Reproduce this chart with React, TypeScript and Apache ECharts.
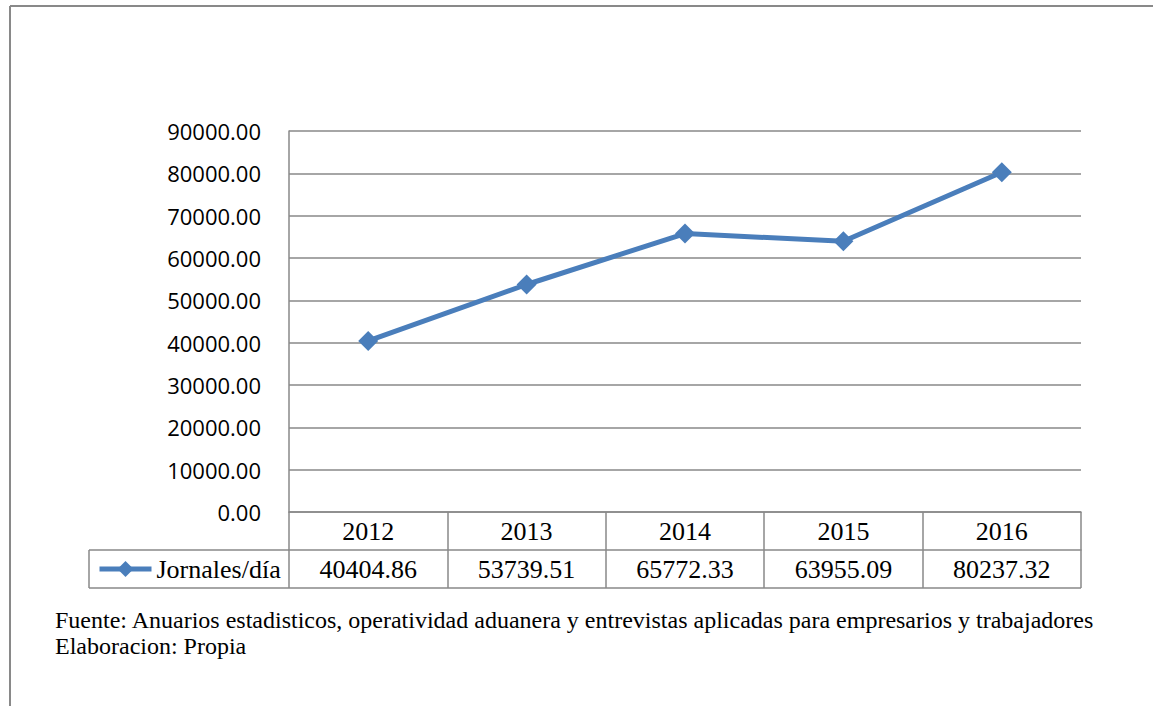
import React, { useEffect, useRef } from "react";
import * as echarts from "echarts";

const years = ["2012", "2013", "2014", "2015", "2016"];
const jornales = [40404.86, 53739.51, 65772.33, 63955.09, 80237.32];
const seriesName = "Jornales/día";
const footerLines = [
  "Fuente: Anuarios estadisticos, operatividad aduanera y entrevistas aplicadas para empresarios y trabajadores",
  "Elaboracion: Propia",
];

const GRAY = "#898989";
const BLUE = "#4A7EBB";
const SERIF = "Liberation Serif";
const SANS = "Open Sans";

export default function App() {
  const ref = useRef<HTMLDivElement>(null);
  useEffect(() => {
    document.body.style.margin = "0";
    if (!ref.current) return;
    const chart = echarts.init(ref.current, null, { renderer: "svg" });
    const gl = 289, gr = 1081, gt = 131, gb = 512;
    const row = 38;
    chart.setOption({
      animation: false,
      backgroundColor: "#ffffff",
      grid: { left: gl, right: 1153 - gr, top: gt, bottom: 706 - gb, containLabel: false },
      legend: {
        show: true,
        left: 97,
        top: gb + row + 6,
        padding: 0,
        itemWidth: 52,
        itemHeight: 20,
        itemStyle: { color: BLUE },
        lineStyle: { color: BLUE, width: 5 },
        textStyle: { fontFamily: SERIF, fontSize: 26, color: "#000" },
        data: [seriesName],
      },
      xAxis: [
        {
          type: "category",
          data: years,
          position: "bottom",
          boundaryGap: true,
          axisLine: { show: true, lineStyle: { color: GRAY, width: 1.5 } },
          axisTick: { show: true, interval: 0, length: row, lineStyle: { color: GRAY, width: 1.5 } },
          axisLabel: { margin: 6, fontFamily: SERIF, fontSize: 26, color: "#000", interval: 0 },
          splitLine: { show: false },
        },
        {
          type: "category",
          data: years,
          position: "bottom",
          offset: row,
          boundaryGap: true,
          axisLine: { show: true, lineStyle: { color: GRAY, width: 1.5 } },
          axisTick: { show: true, interval: 0, length: row, lineStyle: { color: GRAY, width: 1.5 } },
          axisLabel: {
            margin: 6,
            fontFamily: SERIF,
            fontSize: 26,
            color: "#000",
            interval: 0,
            formatter: (_v: string, i: number) => jornales[i].toFixed(2),
          },
          splitLine: { show: false },
        },
      ],
      yAxis: {
        type: "value",
        min: 0,
        max: 90000,
        interval: 10000,
        axisLine: { show: true, lineStyle: { color: GRAY, width: 1.5 } },
        axisTick: { show: false },
        axisLabel: {
          margin: 28,
          fontFamily: SANS,
          fontSize: 22,
          color: "#000",
          formatter: (v: number) => v.toFixed(2),
        },
        splitLine: { show: true, lineStyle: { color: GRAY, width: 1.5 } },
      },
      series: [
        {
          name: seriesName,
          type: "line",
          data: jornales,
          xAxisIndex: 0,
          symbol: "diamond",
          symbolSize: 20,
          lineStyle: { color: BLUE, width: 5 },
          itemStyle: { color: BLUE },
        },
      ],
      graphic: [
        { type: "line", shape: { x1: 10, y1: 6, x2: 1153, y2: 6 }, style: { stroke: GRAY, lineWidth: 2 } },
        { type: "line", shape: { x1: 10, y1: 6, x2: 10, y2: 706 }, style: { stroke: GRAY, lineWidth: 2 } },
        { type: "line", shape: { x1: 89, y1: gb + row, x2: gl, y2: gb + row }, style: { stroke: GRAY, lineWidth: 1.5 } },
        { type: "line", shape: { x1: 89, y1: gb + 2 * row, x2: gr, y2: gb + 2 * row }, style: { stroke: GRAY, lineWidth: 1.5 } },
        { type: "line", shape: { x1: 89, y1: gb + row, x2: 89, y2: gb + 2 * row }, style: { stroke: GRAY, lineWidth: 1.5 } },
        ...footerLines.map((t, i) => ({
          type: "text",
          left: 55,
          top: 608 + i * 26,
          style: { text: t, fontFamily: SERIF, fontSize: 24, fill: "#000" },
        })),
      ],
    });
    return () => chart.dispose();
  }, []);
  return <div ref={ref} style={{ width: 1153, height: 706 }} />;
}
